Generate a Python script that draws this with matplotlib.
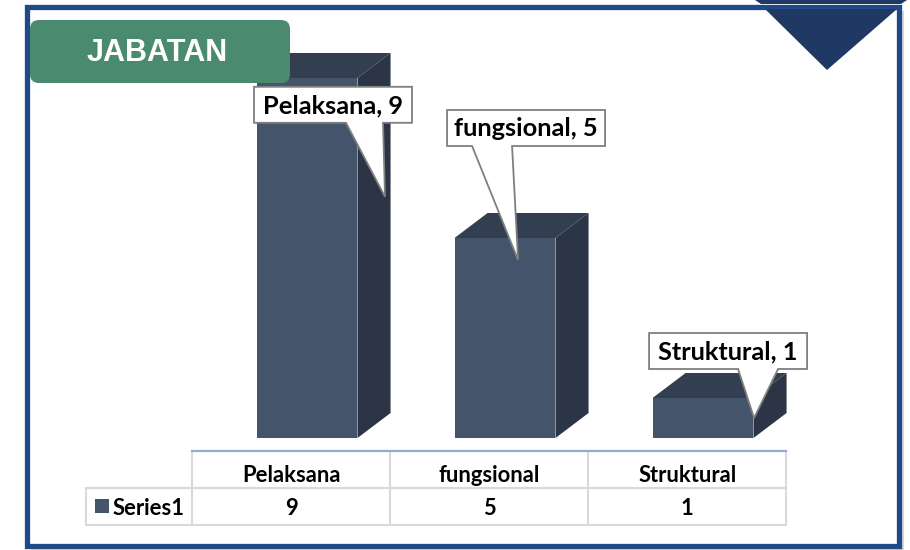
import matplotlib
matplotlib.use("Agg")
import matplotlib.pyplot as plt
from matplotlib.patches import Polygon, Rectangle, FancyBboxPatch

# ---------------- data ----------------
title = "JABATAN"
categories = ["Pelaksana", "fungsional", "Struktural"]
values = [9, 5, 1]
series_name = "Series1"

# ---------------- layout / style ----------------
W, H = 910, 550
FRONT = "#44546A"
TOP = "#333F50"
SIDE = "#2B3545"
FRAME = "#1F4A87"
TRI = "#1F3864"
GREEN = "#4A8B6F"
GRID = "#D9D9D9"
LABEL_FONT = ["Lato", "DejaVu Sans"]

bar_w = 0.51          # width of front face (category units)
depth_x = 0.167       # 3D depth offset (category units)
depth_y = 0.625       # 3D depth offset (value units)
# callout: tip position relative to bar (dx in category units, dy below top in value units)
tip_dx = [0.394, 0.066, 0.258]
tip_below = [2.97, 0.55, 0.5]
# box offsets relative to tip in pixels (x0, y0 downwards), base of pointer
box_off = [(-131, -110), (-71, -150), (-105, -85)]
box_size = (158, 36)
base_off = [(-39, -2), (-46, -6), (-16, 24)]

fig = plt.figure(figsize=(W / 100, H / 100), dpi=100)
fig.patch.set_facecolor("white")

bg = fig.add_axes([0, 0, 1, 1], zorder=0)
bg.set_xlim(0, W)
bg.set_ylim(H, 0)
bg.axis("off")

ax = fig.add_axes([208 / W, 112 / H, 594 / W, 400 / H], zorder=1)
ax.set_xlim(-0.5, 2.5)
ax.set_ylim(0, 10)
ax.axis("off")
ax.patch.set_alpha(0)

top = fig.add_axes([0, 0, 1, 1], zorder=2)
top.set_xlim(0, W)
top.set_ylim(H, 0)
top.axis("off")
top.patch.set_alpha(0)

# ---------------- frame ----------------
bg.add_patch(Rectangle((31, 11), 873, 540, facecolor="#BFBFBF", edgecolor="none", alpha=0.6))
bg.add_patch(Rectangle((27, 7), 872, 539, facecolor="white", edgecolor=FRAME, linewidth=3.8))
bg.add_patch(Polygon([(755, 0), (907, 0), (901, 4), (761, 4)], closed=True,
                     facecolor=TRI, edgecolor="none"))
bg.add_patch(Polygon([(765, 9), (897, 9), (827, 70)], closed=True,
                     facecolor=TRI, edgecolor="none"))

# ---------------- bars ----------------
for i, v in enumerate(values):
    x0, x1 = i - bar_w / 2, i + bar_w / 2
    ax.add_patch(Polygon([(x0, 0), (x1, 0), (x1, v), (x0, v)], closed=True,
                         facecolor=FRONT, edgecolor="none"))
    ax.add_patch(Polygon([(x0, v), (x1, v), (x1 + depth_x, v + depth_y), (x0 + depth_x, v + depth_y)],
                         closed=True, facecolor=TOP, edgecolor="none"))
    ax.add_patch(Polygon([(x1, 0), (x1 + depth_x, depth_y), (x1 + depth_x, v + depth_y), (x1, v)],
                         closed=True, facecolor=SIDE, edgecolor="none"))

fig.canvas.draw()


def to_px(xd, yd):
    disp = ax.transData.transform((xd, yd))
    return bg.transData.inverted().transform(disp)


# ---------------- title ----------------
top.add_patch(FancyBboxPatch((30, 20), 260, 63, boxstyle="round,pad=0,rounding_size=9",
                             facecolor=GREEN, edgecolor="none"))
top.text(157, 53, title, color="white", fontsize=22, fontweight="bold",
         family=["Liberation Sans", "DejaVu Sans"], ha="center", va="center")

# ---------------- callouts ----------------
bw, bh = box_size
for i, (cat, v) in enumerate(zip(categories, values)):
    tx, ty = to_px(i + tip_dx[i], v - tip_below[i])
    bx0 = tx + box_off[i][0]
    by0 = ty + box_off[i][1]
    b0 = tx + base_off[i][0]
    b1 = tx + base_off[i][1]
    pts = [(bx0, by0), (bx0 + bw, by0), (bx0 + bw, by0 + bh), (b1, by0 + bh), (tx, ty),
           (b0, by0 + bh), (bx0, by0 + bh)]
    top.add_patch(Polygon(pts, closed=True, facecolor="white", edgecolor="#7F7F7F",
                          linewidth=1.3, joinstyle="miter"))
    top.text(bx0 + bw / 2, by0 + bh / 2 + 1, f"{cat}, {v}", fontsize=18.3, fontweight="bold",
             family=LABEL_FONT, ha="center", va="center", color="black")

# ---------------- data table ----------------
col_shift = -0.08
edges = [to_px(i + col_shift - 0.5, 0)[0] for i in range(len(categories))]
edges.append(to_px(len(categories) - 1 + col_shift + 0.5, 0)[0])
y_top, y_mid, y_bot = 451, 488, 525
left_x = 86
for xe in edges:
    top.plot([xe, xe], [y_top, y_bot], color=GRID, linewidth=1.5, solid_capstyle="butt")
top.plot([left_x, left_x], [y_mid, y_bot], color=GRID, linewidth=1.5, solid_capstyle="butt")
top.plot([left_x, edges[-1]], [y_mid, y_mid], color=GRID, linewidth=1.5)
top.plot([left_x, edges[-1]], [y_bot, y_bot], color=GRID, linewidth=1.5)
top.plot([edges[0], edges[-1]], [y_top, y_top], color="#8EAADB", linewidth=1.6)

TS = 15.8
for i, (cat, v) in enumerate(zip(categories, values)):
    cx = (edges[i] + edges[i + 1]) / 2
    top.text(cx, y_mid - 6, cat, fontsize=TS, fontweight="bold",
             family=LABEL_FONT, ha="center", va="baseline")
    top.text(cx, y_bot - 10, str(v), fontsize=TS, fontweight="bold",
             family=LABEL_FONT, ha="center", va="baseline")

top.add_patch(Rectangle((95, 499), 14, 14, facecolor=FRONT, edgecolor="none"))
top.text(113, y_bot - 10, series_name, fontsize=TS, fontweight="bold",
         family=LABEL_FONT, ha="left", va="baseline")

fig.savefig("out.png", dpi=100)
